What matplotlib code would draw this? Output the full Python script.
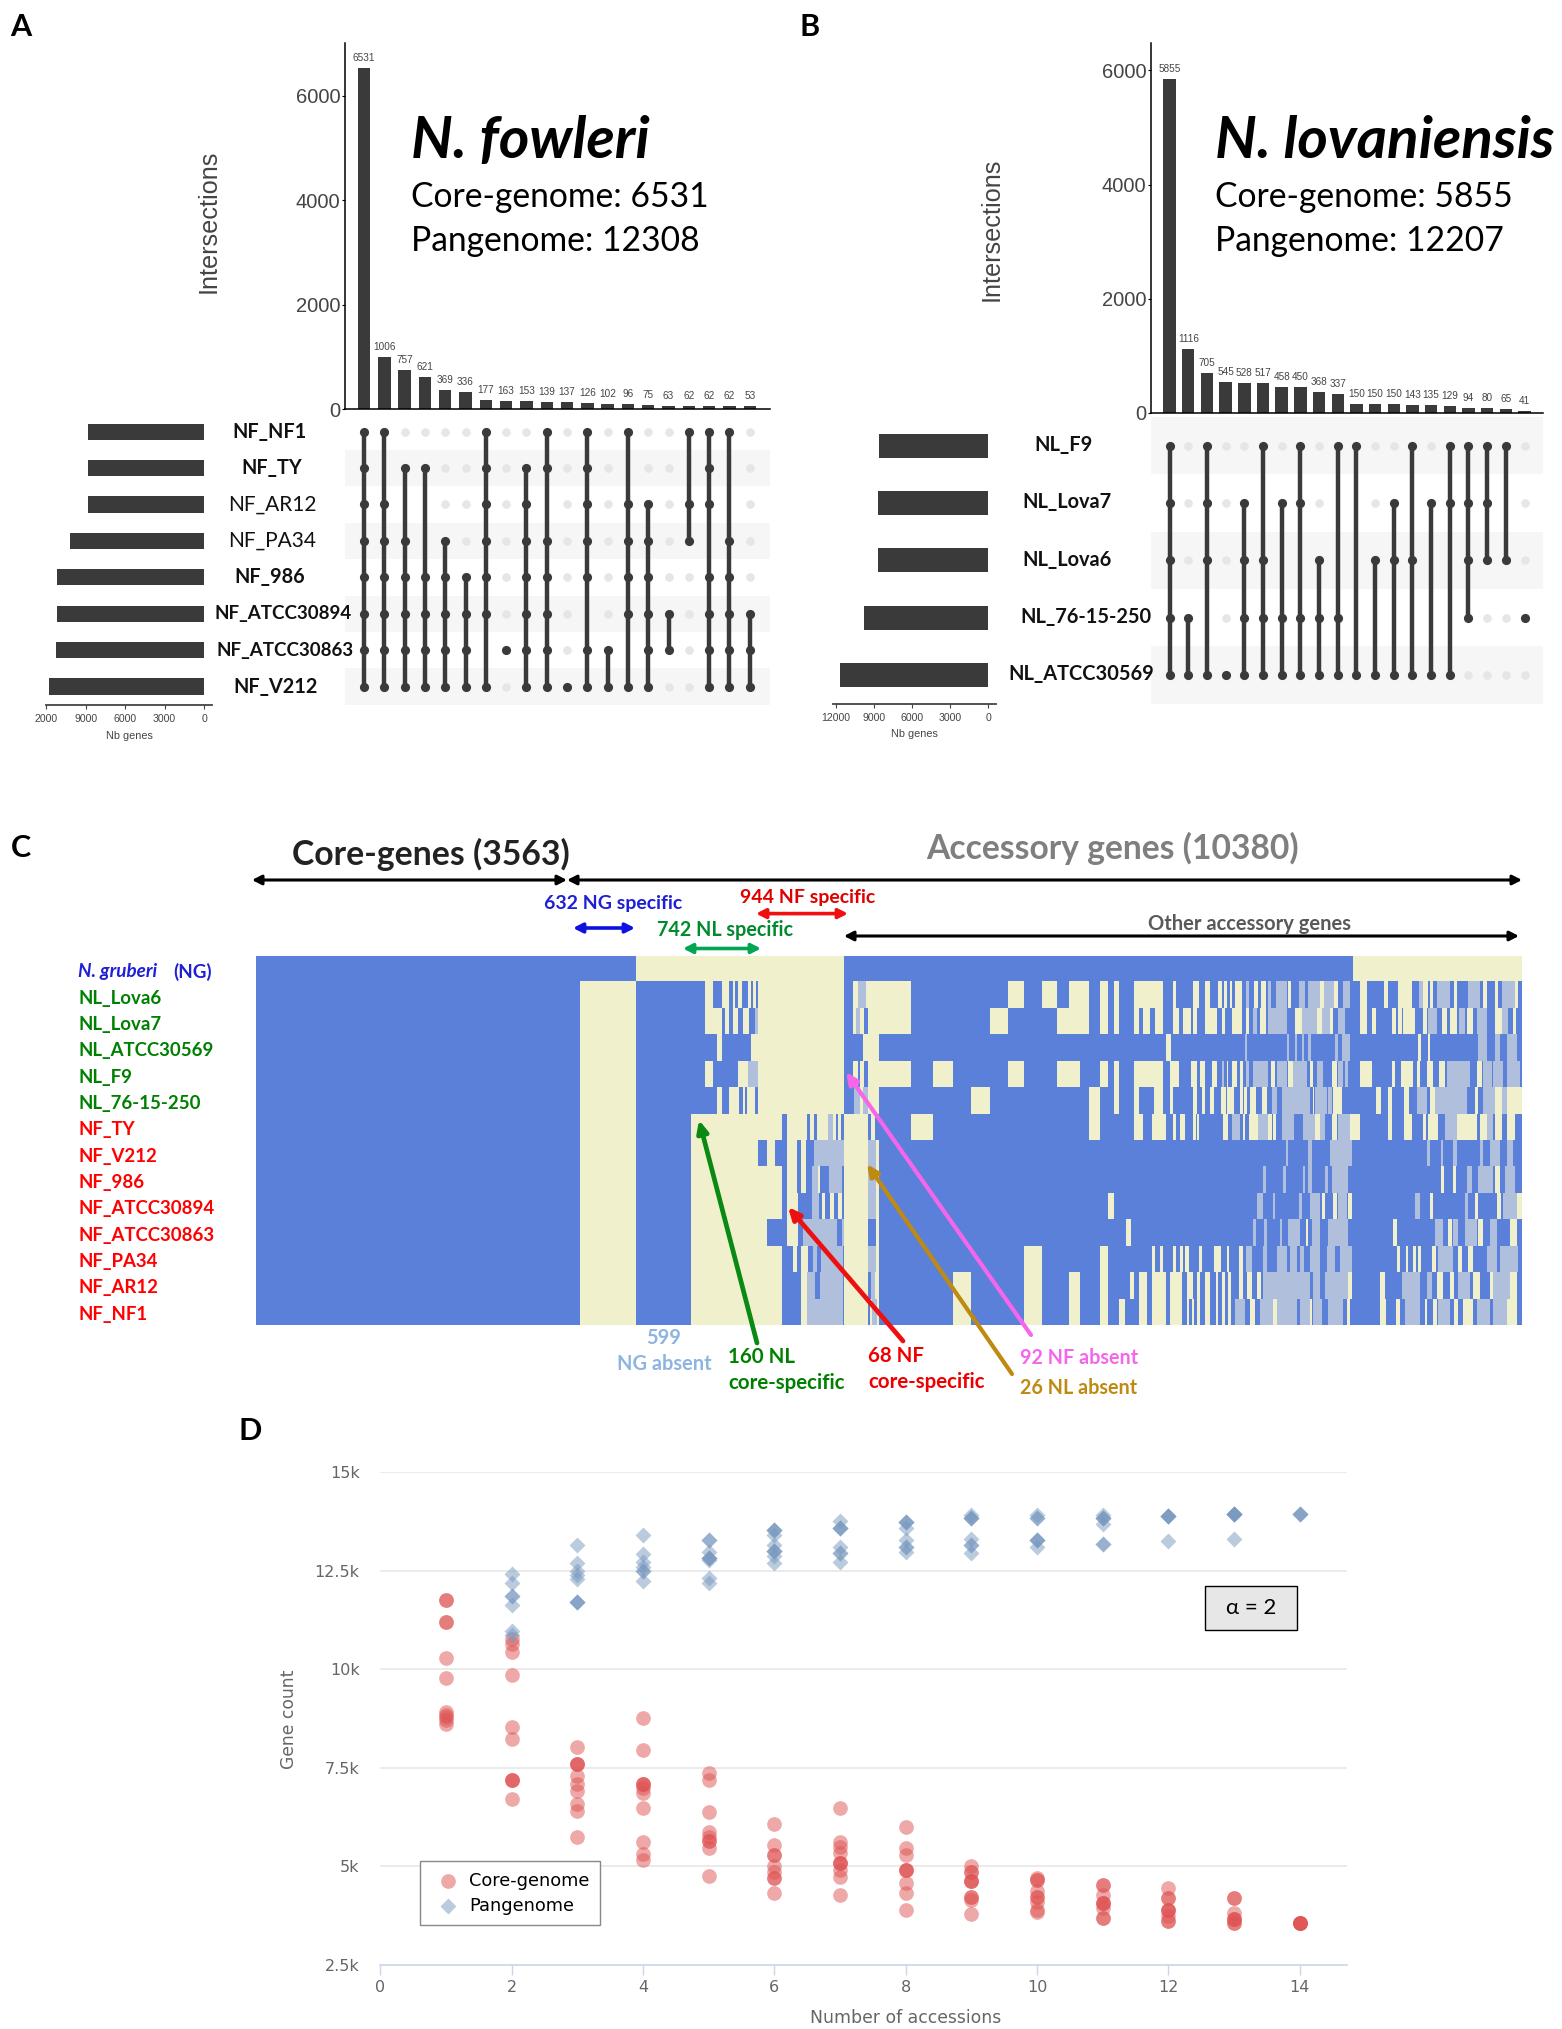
import numpy as np
import matplotlib
matplotlib.use("Agg")
import matplotlib.pyplot as plt
from matplotlib.colors import ListedColormap
from matplotlib.patches import Rectangle

W, H = 1562, 2029
plt.rcParams['font.family'] = ['Lato', 'DejaVu Sans']

# ---------- panel A data ----------
A_counts = [6531,1006,757,621,369,336,177,163,153,139,137,126,102,96,75,63,62,62,62,53]
A_sets = ['NF_NF1','NF_TY','NF_AR12','NF_PA34','NF_986','NF_ATCC30894','NF_ATCC30863','NF_V212']
A_sizes = [8830,8830,8830,10200,11200,11200,11250,11800]
A_ticklabels = ['2000','9000','6000','3000','0']
A_members = [[0,1,2,3,4,5,6,7],[0,2,3,4,5,6,7],[1,3,4,5,6,7],[1,4,5,6,7],[3,4,5,6,7],[4,5,6,7],
             [0,1,2,3,4,5,7],[6],[1,2,3,4,5,6,7],[0,1,3,4,5,6,7],[7],[0,1,2,3,4,6,7],[6,7],
             [0,2,3,4,5,7],[2,3,4,5,6,7],[5,6],[0,2,3],[0,1,2,4,5,6,7],[0,3,4,5,6,7],[5,6,7]]

# ---------- panel B data ----------
B_counts = [5855,1116,705,545,528,517,458,450,368,337,150,150,150,143,135,129,94,80,65,41]
B_sets = ['NL_F9','NL_Lova7','NL_Lova6','NL_76-15-250','NL_ATCC30569']
B_sizes = [8640,8720,8720,9810,11720]
B_ticklabels = ['12000','9000','6000','3000','0']
B_members = [[0,1,2,3,4],[3,4],[0,1,2,4],[4],[1,2,3,4],[0,2,3,4],[1,3,4],[0,1,3,4],[2,3,4],[0,3,4],
             [0,4],[2,4],[1,2,4],[0,2,4],[1,4],[0,1,4],[0,1,2,3],[0,1,2],[0,2],[3]]

# ---------- panel C data: column runs per row (about 11 genes per column) ----------
C_labels = ['N. gruberi (NG)','NL_Lova6','NL_Lova7','NL_ATCC30569','NL_F9','NL_76-15-250','NF_TY','NF_V212',
            'NF_986','NF_ATCC30894','NF_ATCC30863','NF_PA34','NF_AR12','NF_NF1']
C_columns = 1266
C_ng_absent = (324,380)
C_absent = [
 [(380,588),(1097,1266)],
 [(449,457),(466,473),(477,479),(482,486),(492,495),(497,500),(502,588),(597,602),(610,655),(752,768),(786,801),(813,833),(844,852),(858,863),(878,907),(917,920),(937,943),(949,954),(962,966),(968,971),(974,976),(979,986),(998,1002),(1005,1010),(1032,1035),(1064,1068),(1078,1082),(1104,1111),(1128,1132),(1142,1156),(1167,1172),(1174,1177),(1198,1201),(1227,1231),(1239,1242),(1259,1262)],
 [(449,466),(469,473),(477,482),(487,493),(502,588),(597,600),(604,608),(612,655),(734,752),(801,833),(844,852),(858,863),(878,883),(887,894),(899,907),(917,923),(927,935),(937,941),(949,961),(966,969),(976,986),(990,993),(1004,1010),(1039,1046),(1061,1066),(1074,1077),(1104,1111),(1116,1120),(1136,1140),(1142,1146),(1147,1159),(1167,1171),(1186,1191),(1194,1201),(1211,1217),(1239,1246),(1257,1260)],
 [(461,466),(495,588),(607,623),(910,915),(1162,1165),(1172,1174)],
 [(449,457),(482,492),(502,588),(597,602),(604,608),(612,655),(677,697),(752,768),(801,824),(844,852),(858,863),(878,907),(914,923),(935,941),(944,949),(956,961),(971,972),(976,981),(984,987),(1015,1019),(1032,1037),(1054,1057),(1076,1081),(1104,1116),(1136,1139),(1145,1157),(1161,1164),(1171,1177),(1183,1189),(1221,1226)],
 [(461,466),(473,483),(487,489),(491,499),(502,588),(604,607),(612,623),(715,734),(833,844),(858,863),(878,883),(898,907),(914,917),(937,941),(946,949),(954,958),(965,970),(971,978),(984,987),(988,991),(994,1000),(1006,1011),(1057,1058),(1077,1086),(1120,1125),(1132,1136),(1148,1153),(1174,1179),(1219,1222),(1239,1246),(1251,1266)],
 [(435,526),(531,551),(554,558),(561,572),(577,580),(582,585),(588,612),(615,619),(655,677),(833,844),(878,887),(896,910),(917,920),(924,929),(937,940),(941,943),(967,972),(987,989),(993,1002),(1012,1016),(1017,1020),(1059,1064),(1076,1081),(1094,1104),(1132,1136),(1148,1156),(1167,1170),(1172,1182),(1201,1221),(1224,1231),(1239,1246),(1251,1259)],
 [(435,502),(511,519),(531,541),(545,550),(588,612),(620,623)],
 [(435,526),(531,541),(545,550),(562,564),(588,612),(620,623),(1185,1188),(1197,1200),(1239,1244)],
 [(435,526),(531,542),(566,569),(574,578),(582,586),(588,612),(620,623),(852,858),(1066,1069),(1077,1081),(1092,1096),(1174,1177),(1219,1222),(1241,1245),(1261,1266)],
 [(435,511),(531,542),(588,612),(620,623),(870,875),(1050,1052),(1137,1141),(1192,1196),(1222,1227),(1254,1261)],
 [(435,526),(537,541),(545,552),(588,612),(620,623),(768,786),(844,852),(896,899),(904,907),(917,920),(924,927),(929,933),(943,946),(958,965),(971,973),(983,987),(1141,1144),(1150,1152),(1157,1160),(1162,1165),(1176,1180),(1202,1206),(1212,1217)],
 [(435,526),(545,551),(588,612),(619,623),(697,715),(768,786),(813,824),(844,852),(874,878),(883,891),(896,910),(914,926),(931,937),(941,944),(949,954),(960,962),(966,969),(972,975),(983,987),(991,996),(1001,1005),(1092,1096),(1124,1129),(1181,1187),(1194,1198),(1217,1224),(1234,1237),(1254,1261)],
 [(435,526),(545,551),(588,612),(614,616),(621,623),(697,715),(768,786),(813,824),(844,852),(863,869),(883,891),(896,910),(914,926),(931,933),(936,938),(941,944),(949,954),(960,962),(966,969),(972,975),(994,999),(1017,1021),(1054,1056),(1091,1094),(1124,1130),(1140,1144),(1169,1171),(1177,1181),(1198,1202),(1207,1217),(1251,1261)],
]
C_mixed = [
 [],
 [(602,610),(990,993),(1012,1015),(1020,1031),(1043,1049),(1052,1064),(1068,1078),(1087,1094),(1163,1167),(1181,1194),(1212,1224),(1246,1259)],
 [(499,502),(600,604),(997,1001),(1012,1031),(1046,1061),(1066,1074),(1082,1089),(1172,1181),(1203,1209),(1221,1231),(1246,1252)],
 [(989,991),(1031,1033),(1039,1041),(1046,1048),(1052,1055),(1079,1082),(1086,1094),(1222,1231),(1239,1244),(1251,1261)],
 [(492,502),(966,968),(990,993),(997,1012),(1021,1031),(1037,1051),(1061,1067),(1082,1087),(1089,1092),(1191,1214),(1227,1236),(1237,1247),(1251,1264)],
 [(598,604),(607,612),(1016,1021),(1026,1054),(1059,1071),(1072,1076),(1161,1171),(1179,1211),(1227,1239),(1246,1251)],
 [(572,577),(976,984),(1002,1012),(1026,1038),(1047,1059),(1064,1069),(1082,1094),(1189,1201),(1231,1237)],
 [(558,588),(612,620),(1030,1032),(1052,1056),(1074,1096),(1171,1174),(1185,1187),(1197,1201),(1224,1227),(1234,1244),(1251,1257)],
 [(556,562),(573,586),(612,620),(1007,1010),(1027,1030),(1047,1049),(1052,1056),(1069,1072),(1076,1092),(1211,1216),(1222,1237),(1249,1259)],
 [(556,563),(612,620),(1001,1007),(1017,1019),(1043,1046),(1054,1064),(1082,1091),(1159,1164),(1209,1212),(1247,1261)],
 [(547,581),(586,588),(997,1000),(1008,1011),(1024,1026),(1032,1044),(1056,1064),(1072,1092),(1179,1187),(1197,1202),(1209,1221),(1234,1241)],
 [(557,561),(565,587),(612,620),(990,996),(1007,1011),(1021,1031),(1034,1041),(1044,1048),(1054,1064),(1071,1079),(1084,1096),(1182,1197),(1231,1241),(1244,1262)],
 [(551,559),(564,587),(615,619),(1007,1054),(1057,1064),(1069,1092),(1146,1164),(1171,1176),(1202,1214),(1237,1254)],
 [(551,587),(616,621),(979,989),(1004,1017),(1021,1041),(1044,1054),(1057,1066),(1072,1087),(1149,1164),(1182,1194),(1221,1234),(1237,1254)],
]

# ---------- panel D data ----------
core_x = [1]*11 + [2]*10 + [3]*10 + [4]*11 + [5]*9 + [6]*9 + [7]*10 + [8]*9 + [9]*10 + [10]*9 + [11]*9 + [12]*9 + [13]*8 + [14]*5
core_y = [11750,11750,11200,11200,10280,9780,8910,8850,8800,8720,8620,
          10770,10630,10440,9845,8530,8225,7195,7195,7195,6700,
          8030,7600,7600,7600,7290,7100,6910,6575,6400,5735,
          8760,7955,7100,7100,7100,7000,6860,6480,5620,5305,5170,
          7375,7195,6370,5860,5735,5640,5640,5460,4750,
          6070,5545,5285,5285,5000,4855,4715,4715,4330,
          6490,5620,5480,5330,5095,5095,5095,4905,4730,4285,
          5990,5475,5285,4905,4905,4905,4570,4330,3900,
          5020,4855,4855,4620,4620,4620,4235,4235,4140,3790,
          4715,4650,4650,4380,4235,4235,4090,3900,3850,
          4540,4540,4285,4075,4075,4075,3950,3690,3690,
          4455,4210,4210,3885,3885,3885,3730,3615,3615,
          4190,4190,3810,3665,3665,3665,3570,3570,
          3565,3565,3565,3565,3565]
pan_x = [2]*7 + [3]*8 + [4]*7 + [5]*9 + [6]*10 + [7]*8 + [8]*8 + [9]*8 + [10]*7 + [11]*7 + [12]*5 + [13]*6 + [14]*3
pan_y = [12415,12175,11850,11850,11630,10960,10870,
         13140,12700,12490,12395,12280,11710,11710,11710,
         13415,12920,12730,12585,12490,12490,12225,
         13280,13280,12975,12830,12830,12830,12760,12300,12175,
         13540,13540,13540,13400,13155,12995,12995,12995,12870,12700,
         13750,13590,13590,13590,13110,12940,12940,12730,
         13730,13730,13730,13590,13280,13110,13110,12975,
         13920,13840,13840,13840,13300,13155,13155,12950,
         13920,13840,13840,13280,13280,13280,13110,
         13920,13840,13840,13840,13680,13180,13180,
         13890,13890,13890,13890,13250,
         13930,13930,13930,13930,13930,13300,
         13940,13940,13940]
D_yticks = [2500,5000,7500,10000,12500,15000]
D_yticklabels = ['2.5k','5k','7.5k','10k','12.5k','15k']
D_xticks = [0,2,4,6,8,10,12,14]

DARK = '#3a3a3a'
fig = plt.figure(figsize=(W/100, H/100), dpi=100, facecolor='white')

def ax_px(x0, y0, x1, y1, **kw):
    return fig.add_axes([x0/W, 1-y1/H, (x1-x0)/W, (y1-y0)/H], **kw)

def upset(counts, members, sizes, ticklabels, top_box, mat_box, left_box, x0, dx, ylim_top, left_max,
          stripes, bar_h, ytick_pad):
    n = len(counts); m = len(sizes)
    xl = ((top_box[0]-x0)/dx, (top_box[2]-x0)/dx)
    a = ax_px(*top_box)
    a.bar(range(n), counts, width=12.4/dx, color=DARK)
    a.set_xlim(xl); a.set_ylim(0, ylim_top)
    for i, v in enumerate(counts):
        a.annotate(str(v), (i, v), xytext=(0, 10*0.72), textcoords='offset points', ha='center', va='center',
                   fontsize=7.2, color='#444444', family='Liberation Sans', annotation_clip=False)
    for s in ('top','right'):
        a.spines[s].set_visible(False)
    a.spines['left'].set_linewidth(1.1); a.spines['bottom'].set_linewidth(1.1)
    a.set_xticks([])
    a.set_yticks([0,2000,4000,6000])
    a.tick_params(axis='y', labelsize=14.5, labelcolor='#444444', length=2, width=0.8, pad=ytick_pad, labelfontfamily='Liberation Sans')
    # matrix
    b = ax_px(*mat_box)
    b.set_xlim(xl); b.set_ylim(m-0.5, -0.5); b.axis('off')
    for r in stripes:
        b.axhspan(r-0.5, r+0.5, color='#f6f6f6', lw=0, zorder=0)
    for c, mem in enumerate(members):
        lo, hi = min(mem), max(mem)
        for r in range(m):
            if r not in mem and not (lo < r < hi):
                b.plot(c, r, 'o', ms=6.2, color='#e6e6e6', mew=0, zorder=1)
        if hi > lo:
            b.plot([c, c], [lo, hi], color=DARK, lw=3.2, zorder=2, solid_capstyle='butt')
        b.plot([c]*len(mem), mem, 'o', ms=6.6, color=DARK, mew=0, zorder=3)
    # set size bars
    c = ax_px(*left_box)
    c.barh(range(m), sizes, height=bar_h, color=DARK)
    c.set_xlim(left_max[0], left_max[1]); c.set_ylim(m-0.5, -0.5)
    for s in ('top','right','left'):
        c.spines[s].set_visible(False)
    c.spines['bottom'].set_linewidth(1.3); c.spines['bottom'].set_color('#444444')
    c.set_yticks([])
    c.set_xticks([12000,9000,6000,3000,0])
    c.set_xticklabels(ticklabels, fontsize=7.6, color='#444444', family='Liberation Sans')
    c.tick_params(axis='x', length=3, width=0.8, pad=3.5, color='#444444')
    c.set_xlabel('Nb genes', fontsize=7.8, color='#444444', family='Liberation Sans', labelpad=5)

upset(A_counts, A_members, A_sizes, A_ticklabels, (345,43,770,409.2), (345,413.5,770,704.7), (46,413.5,212,704.7),
      364, 20.3, 366.2/0.0522, ((204-46)/39.4*3000, -(212-204)/39.4*3000), [1,3,5,7], 0.44, 1.5)
upset(B_counts, B_members, B_sizes, B_ticklabels, (1151,43,1543,413), (1151,417,1543,703.5), (833,417,996,703.5),
      1169.6, 18.68, 370/0.0571, ((988-833)/38*3000, -(996-988)/38*3000), [0,2,4], 0.42, 1.5)

# heatmap C
grid = np.zeros((14, C_columns), dtype=int)
for r in range(14):
    if r > 0:
        grid[r, C_ng_absent[0]:C_ng_absent[1]] = 1
    for a_, b_ in C_mixed[r]:
        grid[r, a_:b_] = 2
    for a_, b_ in C_absent[r]:
        grid[r, a_:b_] = 1
hm = ax_px(256, 956, 1522, 1325)
hm.imshow(grid, aspect='auto', interpolation='nearest', cmap=ListedColormap(['#5b80da', '#f0f0cc', '#b0bfdc']), vmin=0, vmax=2,
          extent=(0, C_columns, 14, 0))
hm.axis('off')

# scatter D
d = ax_px(380.4, 1472, 1347, 1965)
d.set_xlim(0, (1347-380.4)/65.67); d.set_ylim(2500, 15000)
d.scatter(core_x, core_y, s=112, marker='o', color=(223/255, 83/255, 83/255, 0.5), linewidths=0, clip_on=False, zorder=3, label='Core-genome')
d.scatter(pan_x, pan_y, s=66, marker='D', color=(119/255, 152/255, 191/255, 0.5), linewidths=0, clip_on=False, zorder=4, label='Pangenome')
for s in ('top','right','left'):
    d.spines[s].set_visible(False)
d.spines['bottom'].set_color('#ccd6eb'); d.spines['bottom'].set_linewidth(1.2)
d.set_yticks(D_yticks); d.set_yticklabels(D_yticklabels, fontsize=11.5, color='#666666', family='DejaVu Sans')
d.set_xticks(D_xticks); d.set_xticklabels([str(v) for v in D_xticks], fontsize=11.5, color='#666666', family='DejaVu Sans')
d.tick_params(axis='y', length=0, pad=15)
d.tick_params(axis='x', length=7, width=1, color='#ccd6eb', pad=4)
d.grid(axis='y', color='#e6e6e6', lw=1.1, zorder=0)
d.set_axisbelow(True)
leg = d.legend(loc='upper left', bbox_to_anchor=((420-380.4)/966.6, (1965-1861)/493), borderaxespad=0, frameon=True, fancybox=False,
               edgecolor='#888888', framealpha=1, prop={'family': 'DejaVu Sans', 'size': 12.8}, handletextpad=0.15, labelspacing=0.4,
               borderpad=0.6, markerscale=1)
leg.get_frame().set_linewidth(1)
leg.set_zorder(5)

# overlay in figure pixels
ov = fig.add_axes([0, 0, 1, 1], facecolor='none')
ov.set_xlim(0, W); ov.set_ylim(H, 0); ov.axis('off'); ov.set_zorder(10)

def T(x, y, s, size, weight='normal', color='black', ha='center', va='center', style='normal', family=None, rot=0):
    kw = {'family': family} if family else {}
    return ov.text(x, y, s, fontsize=size, fontweight=weight, color=color, ha=ha, va=va, fontstyle=style, rotation=rot, **kw)

for x, y, s in [(21,27,'A'),(810,27,'B'),(21,848,'C'),(250,1431,'D')]:
    T(x, y, s, 22, 'bold')

T(209, 221, 'Intersections', 18.2, color='#444444', family='Liberation Sans', rot=90)
T(992, 229, 'Intersections', 18.2, color='#444444', family='Liberation Sans', rot=90)

T(411, 141, 'N. fowleri', 42, 'bold', ha='left', style='italic')
T(411, 197, 'Core-genome: 6531', 24.2, ha='left')
T(411, 241, 'Pangenome: 12308', 24.2, ha='left')
T(1215, 141, 'N. lovaniensis', 42, 'bold', ha='left', style='italic')
T(1215, 197, 'Core-genome: 5855', 24.2, ha='left')
T(1215, 241, 'Pangenome: 12207', 24.2, ha='left')

A_label_x = [270,272,272,272,270,283.6,284.6,275.6]
A_label_w = ['bold','bold','normal','normal','bold','bold','bold','bold']
A_label_s = [14.3,14.3,15,15,14.3,13.5,13.5,14.3]
for i, s in enumerate(A_sets):
    T(A_label_x[i], 431.7+36.4*i, s, A_label_s[i], A_label_w[i], color='#111111')
B_label_x = [1063.8,1066.7,1066.7,1086,1081]
for i, s in enumerate(B_sets):
    T(B_label_x[i], 445+57.3*i, s, 14.4, 'bold', color='#111111')

# panel C texts
T(431, 854, 'Core-genes (3563)', 24.3, 'bold', color='#222222')
T(1113, 848, 'Accessory genes (10380)', 24.2, 'bold', color='#7f7f7f')
T(613, 903, '632 NG specific', 14, 'bold', color='#1f1fd6')
T(808, 898, '944 NF specific', 14, 'bold', color='#e00000')
T(725, 930, '742 NL specific', 14.2, 'bold', color='#008a2e')
T(1250, 924, 'Other accessory genes', 14.5, 'bold', color='#595959')

def darrow(x0, x1, y, color, lw=2.2):
    ov.annotate('', xy=(x1, y), xytext=(x0, y), arrowprops=dict(arrowstyle='<|-|>,head_length=0.55,head_width=0.28', color=color, lw=lw, shrinkA=0, shrinkB=0))
darrow(252, 567, 880, 'black')
darrow(567, 1522, 880, 'black')
darrow(573, 635, 928, '#1010e0', 2.6)
darrow(756, 848, 913.6, '#f01010', 2.6)
darrow(683, 761, 948.5, '#00a651', 2.6)
darrow(844, 1519, 936, 'black')

C_colors = ['#1f1fd6'] + ['#008000']*5 + ['#ff0000']*8
for i, s in enumerate(C_labels):
    y = 958.5 + 26.36*(i+0.5)
    if i == 0:
        T(78, y, 'N. gruberi', 13.6, 'bold', color=C_colors[0], ha='left', style='italic')
        T(173, y, '(NG)', 13.6, 'bold', color=C_colors[0], ha='left')
    else:
        T(78, y, s, 13.4, 'bold', color=C_colors[i], ha='left')

def sarrow(tail, tip, color, lw=3.4):
    ov.annotate('', xy=tip, xytext=tail, arrowprops=dict(arrowstyle='-|>,head_length=0.7,head_width=0.32', color=color, lw=lw, shrinkA=0, shrinkB=0))
sarrow((757,1343), (699,1120), '#0a8a12')
sarrow((903,1341), (788,1207), '#ee1010')
sarrow((1031,1335), (846,1072), '#f566ea', 3.0)
sarrow((1012,1374), (867,1164), '#bf8a12', 3.0)

T(664, 1338, '599', 14.4, 'bold', color='#8db4e2')
T(664, 1364, 'NG absent', 14.4, 'bold', color='#8db4e2')
T(728, 1357, '160 NL', 14.8, 'bold', color='#008000', ha='left')
T(728, 1383, 'core-specific', 14.8, 'bold', color='#008000', ha='left')
T(868, 1356, '68 NF', 14.8, 'bold', color='#ee0000', ha='left')
T(868, 1382, 'core-specific', 14.8, 'bold', color='#ee0000', ha='left')
T(1020, 1358, '92 NF absent', 14.2, 'bold', color='#f566ea', ha='left')
T(1020, 1388, '26 NL absent', 14.2, 'bold', color='#bf8a12', ha='left')

# panel D texts
T(289.5, 1719, 'Gene count', 12.3, color='#666666', family='DejaVu Sans', rot=90)
T(906, 2018, 'Number of accessions', 12.4, color='#666666', family='DejaVu Sans')
ov.add_patch(Rectangle((1205, 1585.5), 92, 44.5, facecolor='#e7e7e7', edgecolor='black', lw=1))
T(1251, 1608, 'α = 2', 16)

fig.savefig('out.png', dpi=100)
